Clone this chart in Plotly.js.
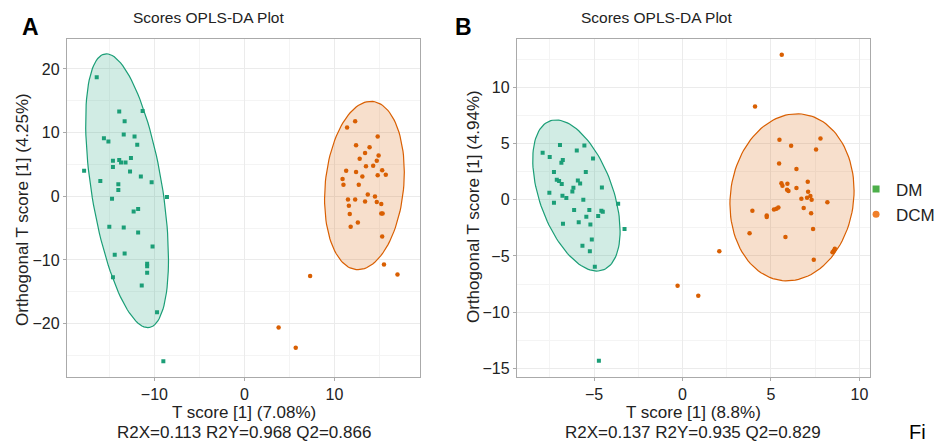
<!DOCTYPE html>
<html>
<head>
<meta charset="utf-8">
<script src="https://cdn.plot.ly/plotly-3.0.1.min.js"></script>
<style>html,body{margin:0;padding:0;background:#fff;}#chart{width:941px;height:443px;}</style>
</head>
<body>
<div id="chart"></div>
<script>
// ---- Panel A data ----
const dmA_x = [-16.4,-17.8,-13.9,-11.3,-13.3,-13.4,-12.2,-15.6,-15.1,-11.9,-14.6,-13.9,-13.7,-13.2,-12.6,-14.6,-12.7,-16.0,-11.5,-10.3,-14.0,-14.0,-14.7,-8.6,-11.8,-12.3,-15.0,-13.4,-11.8,-10.2,-14.4,-13.3,-10.8,-10.8,-10.8,-14.6,-11.4,-9.7,-9.0];
const dmA_y = [18.7,4.0,13.3,13.4,11.8,9.7,9.4,9.1,8.6,8.1,5.6,5.7,5.3,5.3,6.0,4.6,3.9,2.4,3.1,2.2,1.9,1.0,-0.4,-0.1,-2.0,-2.4,-4.8,-4.9,-5.7,-7.9,-9.2,-9.0,-10.6,-11.0,-12.0,-12.7,-14.0,-18.2,-25.9];
const dcmA_x = [12.3,11.4,14.8,12.4,13.9,13.4,14.9,12.8,14.7,14.3,13.5,11.3,12.4,15.3,15.7,14.8,13.1,10.9,11.0,12.7,13.7,14.5,11.5,12.3,13.4,14.7,15.2,11.6,15.2,15.35,11.7,12.6,11.8,15.3,15.5,17.0,7.3,3.8,5.7];
const dcmA_y = [11.8,10.8,9.4,8.0,7.7,6.8,6.4,5.9,5.6,4.8,4.7,4.0,3.8,4.1,3.4,3.3,3.1,2.7,1.8,1.8,0.3,-0.05,-0.5,-0.5,-0.8,-0.9,-1.2,-1.5,-2.7,-2.7,-2.8,-4.1,-4.8,-6.3,-10.7,-12.3,-12.5,-20.6,-23.8];
// ellipse: [centerX, centerY, sdX, sdY, correlation]
const ellA_DM = [-13.03, 0.87, 4.6, 21.5, -0.50];
const ellA_DCM = [13.33, 1.69, 4.43, 13.22, 0.16];

// ---- Panel B data ----
const dmB_x = [-7.91,-7.51,-6.93,-5.98,-5.55,-5.06,-6.77,-6.85,-7.27,-5.47,-7.11,-6.98,-6.83,-5.92,-5.79,-4.56,-6.17,-6.23,-7.53,-6.79,-6.57,-5.61,-7.27,-3.64,-6.13,-5.27,-4.59,-4.51,-5.44,-4.77,-5.87,-6.76,-5.21,-5.13,-5.66,-5.24,-4.96,-4.73,-3.28];
const dmB_y = [4.18,3.80,4.87,4.39,4.83,3.67,3.53,3.29,2.46,2.46,1.78,1.66,1.40,1.72,1.45,1.10,1.07,0.74,0.62,0.36,0.15,0,-0.27,-0.36,-0.92,-0.92,-0.98,-1.07,-1.51,-1.45,-1.99,-2.14,-2.19,-3.53,-4.09,-4.57,-5.96,-14.32,-2.61];
const dcmB_x = [5.61,4.10,5.48,7.80,6.14,7.55,5.46,6.44,7.08,5.59,5.65,5.93,6.44,5.91,5.99,7.10,7.23,7.04,6.72,7.30,8.19,6.85,5.42,5.31,5.17,3.95,7.27,4.76,4.76,7.38,3.79,5.82,2.08,8.61,8.55,8.48,7.42,-0.28,0.89];
const dcmB_y = [12.90,8.30,5.34,5.45,4.80,4.48,3.23,2.73,1.60,1.48,1.25,1.42,1.04,0.89,0.77,0.71,0.33,0.18,0.09,0,-0.21,-0.74,-0.68,-0.80,-0.86,-0.98,-1.19,-1.39,-1.54,-2.61,-2.97,-3.32,-4.57,-4.36,-4.54,-4.66,-5.34,-7.65,-8.54];
const ellB_DM = [-6.0, 0.38, 2.47, 6.72, -0.47];
const ellB_DCM = [6.19, 0.22, 3.51, 7.43, 0.08];

// ---- Text ----
const groups = ["DM", "DCM"];
const plotTitle = "Scores OPLS-DA Plot";
const xTitleA = ["T score [1] (7.08%)", "R2X=0.113 R2Y=0.968 Q2=0.866"];
const yTitleA = "Orthogonal T score [1] (4.25%)";
const xTitleB = ["T score [1] (8.8%)", "R2X=0.137 R2Y=0.935 Q2=0.829"];
const yTitleB = "Orthogonal T score [1] (4.94%)";

const GREEN = "#1B9E77", ORANGE = "#D95F02";
const FONT = "Arial, 'Liberation Sans', Helvetica, sans-serif";
const NARROW = "'Liberation Sans Narrow', 'Arial Narrow', Arial, sans-serif";

function ellipse(p) {
  const [cx, cy, sx, sy, r] = p;
  const xs = [], ys = [];
  const k = Math.sqrt(1 - r * r);
  for (let i = 0; i <= 120; i++) {
    const t = 2 * Math.PI * i / 120;
    xs.push(cx + sx * Math.cos(t));
    ys.push(cy + sy * (r * Math.cos(t) + k * Math.sin(t)));
  }
  return {xs, ys};
}

function ellTrace(p, color, fill, xa, ya) {
  const e = ellipse(p);
  return {x: e.xs, y: e.ys, xaxis: xa, yaxis: ya, type: "scatter", mode: "lines",
    fill: "toself", fillcolor: fill, line: {color: color, width: 1.2},
    hoverinfo: "skip", showlegend: false};
}
function ptTrace(x, y, color, symbol, size, xa, ya) {
  return {x: x, y: y, xaxis: xa, yaxis: ya, type: "scatter", mode: "markers",
    marker: {color: color, symbol: symbol, size: size}, showlegend: false};
}

const traces = [
  ellTrace(ellA_DM, GREEN, "rgba(27,158,119,0.2)", "x", "y"),
  ellTrace(ellA_DCM, ORANGE, "rgba(217,95,2,0.2)", "x", "y"),
  ellTrace(ellB_DM, GREEN, "rgba(27,158,119,0.2)", "x2", "y2"),
  ellTrace(ellB_DCM, ORANGE, "rgba(217,95,2,0.2)", "x2", "y2"),
  ptTrace(dmA_x, dmA_y, GREEN, "square", 4, "x", "y"),
  ptTrace(dcmA_x, dcmA_y, ORANGE, "circle", 4.5, "x", "y"),
  ptTrace(dmB_x, dmB_y, GREEN, "square", 4, "x2", "y2"),
  ptTrace(dcmB_x, dcmB_y, ORANGE, "circle", 4.5, "x2", "y2"),
  {x: [null], y: [null], type: "scatter", mode: "markers", name: groups[0],
    marker: {color: "#4DAF4A", symbol: "square", size: 7}, showlegend: true},
  {x: [null], y: [null], type: "scatter", mode: "markers", name: groups[1],
    marker: {color: "#F07F2A", symbol: "circle", size: 7}, showlegend: true}
];

const W = 941, H = 443;
const px = v => v / W, py = v => 1 - v / H;

function axisCommon(extra) {
  return Object.assign({
    showline: true, mirror: true, linecolor: "#AAAAAA", linewidth: 1.2,
    ticks: "outside", ticklen: 3, tickcolor: "#AAAAAA", tickwidth: 1,
    showgrid: true, gridcolor: "#EBEBEB", gridwidth: 1,
    zeroline: false, tickfont: {family: FONT, size: 16, color: "#222"},
    fixedrange: true
  }, extra);
}

function textAnn(text, x, y, size, extra) {
  return Object.assign({text: text, xref: "paper", yref: "paper", x: px(x), y: py(y),
    xanchor: "center", yanchor: "middle", showarrow: false, borderpad: 0,
    font: {family: FONT, size: size, color: "#222"}}, extra || {});
}

const layout = {
  width: W, height: H,
  margin: {l: 0, r: 0, t: 0, b: 0},
  paper_bgcolor: "#fff", plot_bgcolor: "#fff",
  font: {family: FONT, color: "#222"},
  xaxis: axisCommon({domain: [px(67), px(420)], anchor: "y", range: [-19.7, 19.5],
    dtick: 10, tick0: 0, minor: {dtick: 5, showgrid: true, gridcolor: "#F4F4F4"}}),
  yaxis: axisCommon({domain: [1 - 376.5 / H, 1 - 39 / H], anchor: "x", range: [-28.3, 24.7],
    dtick: 10, tick0: 0, minor: {dtick: 5, showgrid: true, gridcolor: "#F4F4F4"}}),
  xaxis2: axisCommon({domain: [px(517), px(870)], anchor: "y2", range: [-9.36, 10.6],
    dtick: 5, tick0: 0, minor: {dtick: 2.5, showgrid: true, gridcolor: "#F4F4F4"}}),
  yaxis2: axisCommon({domain: [1 - 376.5 / H, 1 - 39 / H], anchor: "x2", range: [-15.72, 14.3],
    dtick: 5, tick0: 0, minor: {dtick: 2.5, showgrid: true, gridcolor: "#F4F4F4"}}),
  showlegend: true,
  legend: {x: 0.999, y: py(202), xanchor: "right", yanchor: "middle",
    font: {family: FONT, size: 17, color: "#222"}, bgcolor: "rgba(0,0,0,0)",
    itemwidth: 30, tracegroupgap: 0},
  annotations: [
    textAnn("<b>A</b>", 31, 27, 23, {font: {family: FONT, size: 23, color: "#000"}}),
    textAnn("<b>B</b>", 463, 27, 23, {font: {family: FONT, size: 23, color: "#000"}}),
    textAnn(plotTitle, 208, 18, 15.5, {font: {family: NARROW, size: 15.5, color: "#222"}}),
    textAnn(plotTitle, 656, 18, 15.5, {font: {family: NARROW, size: 15.5, color: "#222"}}),
    textAnn(yTitleA, 22, 210, 17, {textangle: -90}),
    textAnn(yTitleB, 474, 207, 17, {textangle: -90}),
    textAnn(xTitleA[0], 244, 412, 17),
    textAnn(xTitleA[1], 244, 432.5, 17),
    textAnn(xTitleB[0], 693, 412, 17),
    textAnn(xTitleB[1], 693, 432.5, 17),
    textAnn("Fi", 908, 444, 20, {xanchor: "left", yanchor: "bottom", font: {family: FONT, size: 20, color: "#000"}})
  ]
};

Plotly.newPlot("chart", traces, layout, {displayModeBar: false, staticPlot: true});
</script>
</body>
</html>
